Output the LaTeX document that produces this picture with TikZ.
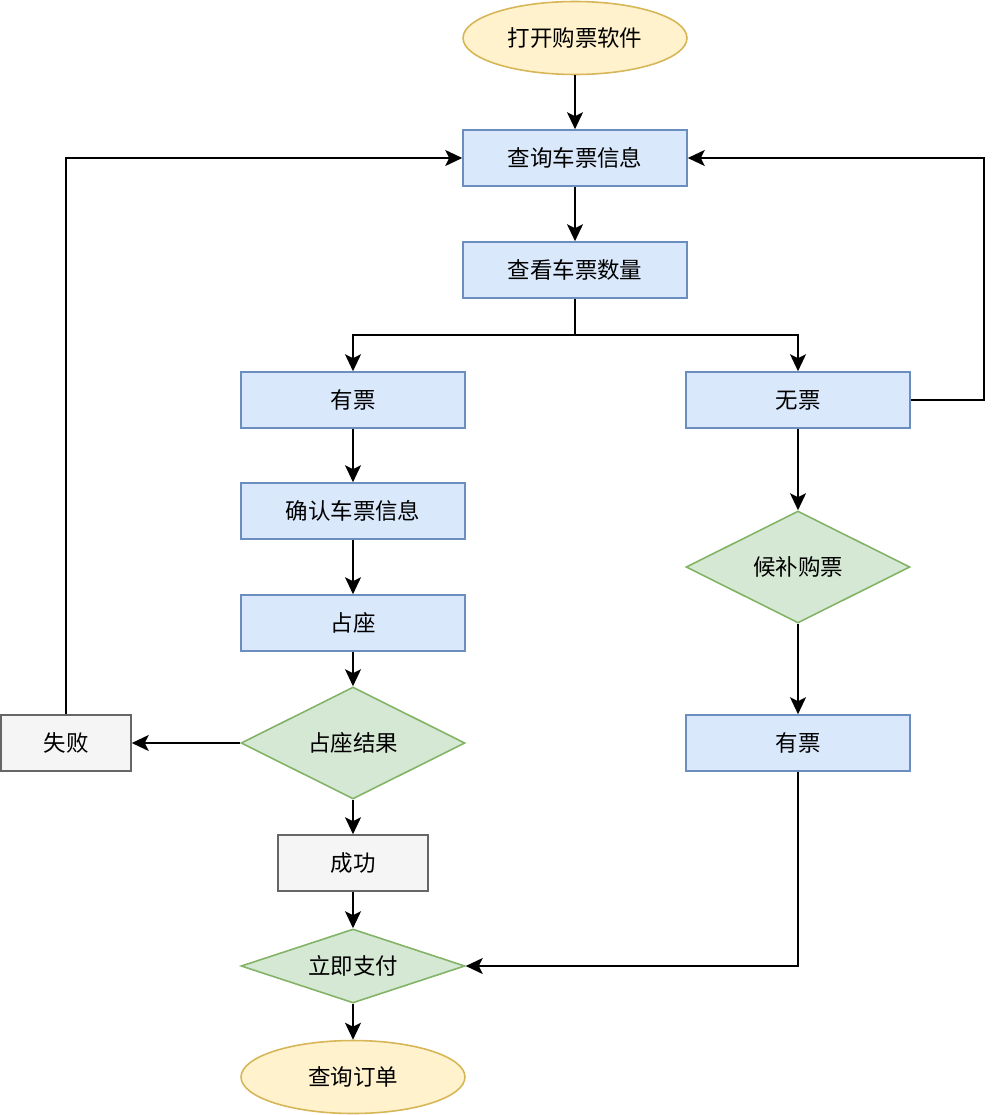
\documentclass[tikz,border=0pt]{standalone}
\usepackage{fontspec}
\newfontfamily\cjk{Noto Sans CJK SC}
\usetikzlibrary{shapes.geometric,arrows.meta}
\definecolor{bluefill}{HTML}{DAE8FC}
\definecolor{bluedraw}{HTML}{6C8EBF}
\definecolor{yelfill}{HTML}{FFF2CC}
\definecolor{yeldraw}{HTML}{D6B656}
\definecolor{grnfill}{HTML}{D5E8D4}
\definecolor{grndraw}{HTML}{82B366}
\definecolor{grayfill}{HTML}{F5F5F5}
\definecolor{graydraw}{HTML}{666666}
\tikzset{
  base/.style={font=\cjk\fontsize{12.8}{15}\selectfont, text=black, inner sep=0pt, line width=0.9pt},
  bluebox/.style={base, rectangle, draw=bluedraw, fill=bluefill, minimum width=4.48cm, minimum height=1.12cm},
  graybox/.style={base, rectangle, draw=graydraw, fill=grayfill, minimum height=1.12cm},
  term/.style={base, ellipse, draw=yeldraw, fill=yelfill, minimum width=4.48cm, minimum height=1.46cm},
  decide/.style={base, diamond, aspect=2, draw=grndraw, fill=grnfill, minimum width=4.48cm, minimum height=2.24cm},
  conn/.style={line width=1.1pt, -{Stealth[length=0.34cm,width=0.32cm,inset=0.08cm]}},
  plain/.style={line width=1.1pt}
}
\begin{document}
\begin{tikzpicture}[x=0.02cm,y=-0.02cm]
\useasboundingbox (0,0) rectangle (1000,1115);
\node[term] (start) at (575,38) {打开购票软件};
\node[bluebox] (query) at (575,158) {查询车票信息};
\node[bluebox] (count) at (575,270) {查看车票数量};
\node[bluebox] (haveL) at (353,400) {有票};
\node[bluebox] (none) at (798,400) {无票};
\node[bluebox] (confirm) at (353,511) {确认车票信息};
\node[bluebox] (seat) at (353,623) {占座};
\node[decide] (result) at (353,743) {占座结果};
\node[graybox, minimum width=2.6cm] (fail) at (66,743) {失败};
\node[graybox, minimum width=3.0cm] (ok) at (353,863) {成功};
\node[decide, aspect=3, minimum height=1.48cm] (pay) at (353,966) {立即支付};
\node[term] (order) at (353,1077) {查询订单};
\node[decide] (wait) at (798,567) {候补购票};
\node[bluebox] (haveR) at (798,743) {有票};
\coordinate (split) at (575,335);
\coordinate (rc) at (984,400);

\draw[conn] (start) -- (query);
\draw[conn] (query) -- (count);
\draw[plain] (count) -- (split);
\draw[conn] (split) -| (haveL);
\draw[conn] (split) -| (none);
\draw[conn] (none.east) -- (rc) |- (query.east);
\draw[conn] (haveL) -- (confirm);
\draw[conn] (confirm) -- (seat);
\draw[conn] (seat) -- (result);
\draw[conn] (result.west) -- (fail.east);
\draw[conn] (fail.north) |- (query.west);
\draw[conn] (result.south) -- (ok.north);
\draw[conn] (ok) -- (pay);
\draw[conn] (pay) -- (order);
\draw[conn] (none) -- (wait);
\draw[conn] (wait) -- (haveR);
\draw[conn] (haveR.south) |- (pay.east);
\end{tikzpicture}
\end{document}
